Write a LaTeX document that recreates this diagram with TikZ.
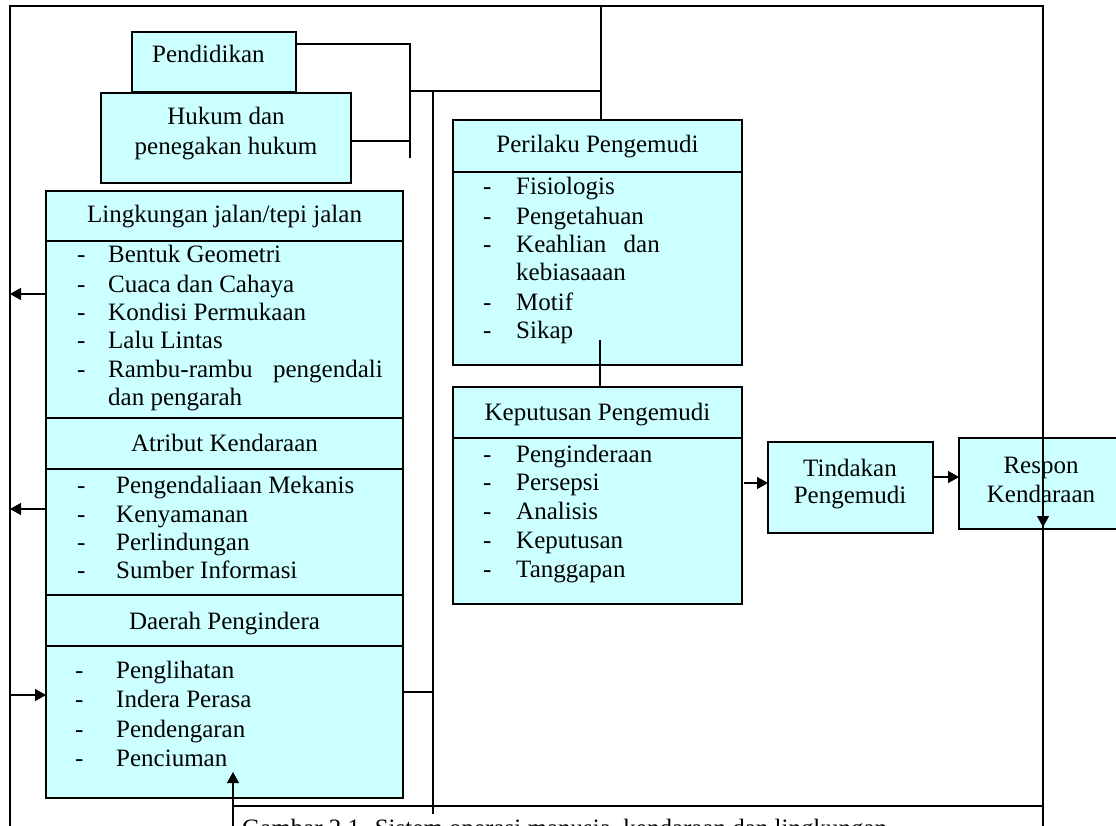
\documentclass[tikz,border=0pt]{standalone}
\usepackage{fontspec}
\setmainfont{Liberation Serif}
\usetikzlibrary{arrows.meta}
\definecolor{boxfill}{HTML}{CCFFFF}
\newcommand\myfs{\fontsize{25}{28.5}\selectfont}
\newcommand\myitem[5]{\node[txt] (#1d) at (#2,#5) {-}; \node[txt] (#1t) at (#3,#5) {#4};}
\begin{document}
\begin{tikzpicture}[x=1pt,y=-1pt,
 box/.style={draw, line width=1.8pt, fill=boxfill, inner sep=0pt, outer sep=0pt},
 ln/.style={line width=1.4pt},
 arr/.style={line width=1.4pt, -{Triangle[length=11pt,width=12pt]}},
 txt/.style={inner sep=0pt, anchor=base west, font=\myfs},
 ctxt/.style={inner sep=0pt, anchor=base, font=\myfs},
 etxt/.style={inner sep=0pt, anchor=base east, font=\myfs}]
\useasboundingbox (0,0) rectangle (1116,826);
\begin{scope}
\clip (0,0) rectangle (1116,826);
\fill[white] (0,0) rectangle (1116,826);

% boxes
\node[box, minimum width=164pt, minimum height=60pt] (pend) at (214,62) {};
\node[box, minimum width=250pt, minimum height=90pt] (huk) at (226,138) {};
\node[box, minimum width=357pt, minimum height=50pt] (lingH) at (224.5,216) {};
\node[box, minimum width=357pt, minimum height=177pt] (lingB) at (224.5,329.5) {};
\node[box, minimum width=357pt, minimum height=51pt] (atrH) at (224.5,443.5) {};
\node[box, minimum width=357pt, minimum height=126pt] (atrB) at (224.5,532) {};
\node[box, minimum width=357pt, minimum height=51pt] (daeH) at (224.5,620.5) {};
\node[box, minimum width=357pt, minimum height=152pt] (daeB) at (224.5,722) {};
\node[box, minimum width=289pt, minimum height=52pt] (perH) at (597.5,146) {};
\node[box, minimum width=289pt, minimum height=193pt] (perB) at (597.5,268.5) {};
\node[box, minimum width=289pt, minimum height=51pt] (kepH) at (597.5,412.5) {};
\node[box, minimum width=289pt, minimum height=166pt] (kepB) at (597.5,521) {};
\node[box, minimum width=165pt, minimum height=91pt] (tin) at (850.5,487.5) {};
\node[box, minimum width=164pt, minimum height=91pt] (res) at (1041,483.5) {};

% headings
\node[txt] (tpend) at (152,63) {Pendidikan};
\node[ctxt] (thuk1) at (226,125) {Hukum dan};
\node[ctxt] (thuk2) at (226,155) {penegakan hukum};
\node[ctxt] (tling) at (224.5,223) {Lingkungan jalan/tepi jalan};
\node[ctxt] (tatr) at (224.5,451) {Atribut Kendaraan};
\node[ctxt] (tdae) at (224.5,629) {Daerah Pengindera};
\node[ctxt] (tper) at (597.5,153) {Perilaku Pengemudi};
\node[ctxt] (tkep) at (597.5,420) {Keputusan Pengemudi};
\node[ctxt] (ttin1) at (850,476) {Tindakan};
\node[ctxt] (ttin2) at (850,503) {Pengemudi};
\node[ctxt] (tres1) at (1041,473) {Respon};
\node[ctxt] (tres2) at (1041,502) {Kendaraan};

% lists
\myitem{l1}{77}{108}{Bentuk Geometri}{263}
\myitem{l2}{77}{108}{Cuaca dan Cahaya}{292}
\myitem{l3}{77}{108}{Kondisi Permukaan}{320}
\myitem{l4}{77}{108}{Lalu Lintas}{348}
\myitem{l5}{77}{108}{Rambu-rambu}{377}
\node[etxt] (l5e) at (383,377) {pengendali};
\node[txt] (l6) at (108,405) {dan pengarah};

\myitem{a1}{77}{116}{Pengendaliaan Mekanis}{493}
\myitem{a2}{77}{116}{Kenyamanan}{522}
\myitem{a3}{77}{116}{Perlindungan}{550}
\myitem{a4}{77}{116}{Sumber Informasi}{578}

\myitem{d1}{75}{116}{Penglihatan}{678}
\myitem{d2}{75}{116}{Indera Perasa}{707}
\myitem{d3}{75}{116}{Pendengaran}{737}
\myitem{d4}{75}{116}{Penciuman}{766}

\myitem{p1}{483}{516}{Fisiologis}{195}
\myitem{p2}{483}{516}{Pengetahuan}{225}
\myitem{p3}{483}{516}{Keahlian}{253}
\node[etxt] (p3e) at (660,253) {dan};
\node[txt] (p3b) at (516,281) {kebiasaaan};
\myitem{p4}{483}{516}{Motif}{310}
\myitem{p5}{483}{516}{Sikap}{338}

\myitem{k1}{483}{516}{Penginderaan}{462}
\myitem{k2}{483}{516}{Persepsi}{490}
\myitem{k3}{483}{516}{Analisis}{519}
\myitem{k4}{483}{516}{Keputusan}{548}
\myitem{k5}{483}{516}{Tanggapan}{577}

% coordinates
\coordinate (fTL) at (10,6);
\coordinate (fBL) at (10,826);
\coordinate (fTR) at (1043,6);
\coordinate (fBR) at (1043,826);
\coordinate (rArr) at (1043,527);
\coordinate (j1) at (410,44);
\coordinate (j2) at (410,158);
\coordinate (j3) at (410,141);
\coordinate (j4) at (410,91);
\coordinate (j5) at (601,91);
\coordinate (jt) at (601,6);
\coordinate (v1) at (433,91);
\coordinate (v2) at (433,814);
\coordinate (vd) at (433,692);
\coordinate (aL1) at (10,294);
\coordinate (aL2) at (10,509);
\coordinate (aL3) at (10,695);
\coordinate (b0) at (233,826);
\coordinate (b1) at (233,806);
\coordinate (b2) at (233,772);
\coordinate (pk) at (600,340);

% frame
\draw[ln] (fBL) -- (fTL) -- (fTR) -- (fBR);
\draw[ln] (993,6) -- (fTR);
\draw[arr] (fTR) -- (rArr);

% connectors
\draw[ln] (pend.east |- j1) -- (j1) -- (j2);
\draw[ln] (huk.east |- j3) -- (j3);
\draw[ln] (j4) -- (j5);
\draw[ln] (jt) -- (jt |- perH.north);
\draw[ln] (v1) -- (v2);
\draw[ln] (daeB.east |- vd) -- (vd);
\draw[arr] (lingB.west |- aL1) -- (aL1);
\draw[arr] (atrB.west |- aL2) -- (aL2);
\draw[arr] (aL3) -- (daeB.west |- aL3);
\draw[arr] (b0) -- (b2);
\draw[ln] (b1) -- (fBR |- b1);
\draw[ln] (pk) -- (pk |- kepH.north);
\draw[arr] (744,483) -- (tin.west |- 0,483);
\draw[arr] (tin.east |- 0,477) -- (res.west |- 0,477);

% caption (cut off at the lower edge, as in the reference)
\node[txt] (cap) at (242,836) {Gambar 2.1. Sistem operasi manusia, kendaraan dan lingkungan};
\end{scope}
\end{tikzpicture}
\end{document}
